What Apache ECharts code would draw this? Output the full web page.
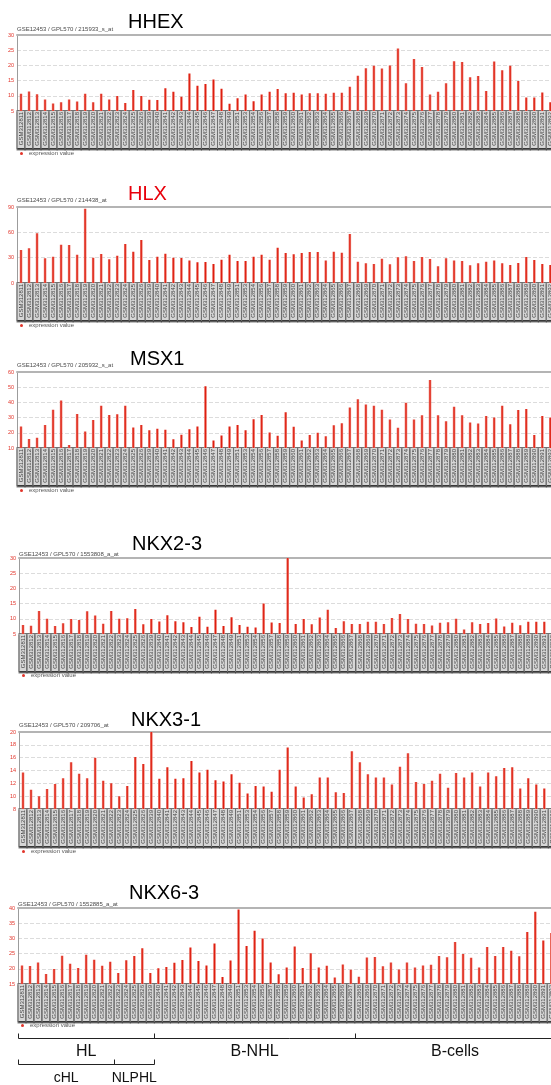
<!DOCTYPE html>
<html><head><meta charset="utf-8">
<script src="https://cdn.jsdelivr.net/npm/echarts/dist/echarts.min.js"></script>
<style>html,body{margin:0;padding:0;overflow:hidden;background:#fff;width:551px;height:1085px}#c{width:560px;height:1085px}</style>
</head><body><div id="c"></div><script>
const categories = ['GSM312811','GSM312812','GSM312813','GSM312814','GSM312815','GSM312816','GSM312817','GSM312818','GSM312819','GSM312820','GSM312821','GSM312822','GSM312823','GSM312824','GSM312825','GSM312826','GSM312839','GSM312840','GSM312841','GSM312842','GSM312843','GSM312844','GSM312845','GSM312846','GSM312847','GSM312848','GSM312849','GSM312851','GSM312853','GSM312854','GSM312856','GSM312857','GSM312858','GSM312859','GSM312860','GSM312861','GSM312862','GSM312863','GSM312864','GSM312865','GSM312866','GSM312867','GSM312868','GSM312869','GSM312870','GSM312871','GSM312872','GSM312873','GSM312874','GSM312875','GSM312876','GSM312877','GSM312878','GSM312879','GSM312880','GSM312881','GSM312882','GSM312883','GSM312884','GSM312885','GSM312886','GSM312887','GSM312888','GSM312889','GSM312890','GSM312891','GSM312892'];

const hhex = [10.7,11.4,10.5,8.8,7.5,7.9,8.8,8.1,10.7,7.9, 10.7,8.8,9.9,7.6,11.9,9.9,8.7,8.6,12.5,11.3, 9.7,17.3,13.3,13.9,15.4,12.3,7.4,9.2,10.4,8.2, 10.4,11.3,12.2,10.8,11.0,10.4,10.8,10.8,10.7,11.0, 11.0,13.0,16.6,19.1,19.9,19.0,20.0,25.6,14.1,22.1, 19.5,10.4,11.3,14.1,21.4,21.1,16.1,16.5,11.6,21.3, 18.4,19.9,14.9,9.4,9.4,11.1,7.9];
const hlx = [39.1,41.1,58.8,29.2,31.2,45.4,45.0,33.6,88.0,30.0, 34.3,28.0,32.4,46.2,37.1,50.9,27.2,31.2,34.7,30.0, 29.6,26.5,24.5,24.9,22.5,27.6,33.6,26.1,26.1,31.2, 33.6,27.4,41.8,35.5,34.0,35.5,36.7,36.7,26.5,37.1, 35.9,58.0,25.3,23.3,22.5,28.8,22.1,30.4,31.6,26.1, 30.8,28.4,19.7,29.2,26.5,26.1,20.9,23.3,25.3,26.5, 23.3,21.3,23.7,30.8,27.2,22.5,21.3];
const msx1 = [24.1,15.9,16.7,25.2,35.2,41.3,12.0,32.4,20.9,28.5, 37.8,31.7,32.2,37.8,23.5,25.2,21.7,22.6,22.0,15.7, 18.7,22.4,24.1,50.7,15.0,18.3,24.1,25.2,21.7,28.9, 31.7,20.2,18.0,33.5,23.9,15.0,18.5,20.0,17.8,25.0, 26.3,36.7,42.0,38.7,37.8,35.2,28.7,23.3,39.8,28.7, 31.5,54.8,31.5,27.6,37.2,31.5,26.7,26.1,31.1,30.0, 37.8,25.7,35.0,35.7,18.5,31.1,30.0];
const nkx23 = [8.0,7.7,12.6,10.0,7.6,8.5,9.9,9.6,12.5,11.1, 8.4,12.6,10.0,10.2,13.2,8.2,9.9,9.1,11.2,9.2, 8.9,7.3,10.7,7.4,13.0,7.6,10.5,8.0,7.4,7.1, 15.0,8.8,8.6,30.0,8.3,9.9,8.2,10.4,13.0,7.0, 9.2,8.3,8.3,9.0,9.0,8.3,10.3,11.6,9.9,8.4, 8.3,7.8,8.7,8.9,10.0,6.5,8.9,8.3,8.6,10.1, 7.5,8.7,7.9,9.0,9.0,9.0,8.5];
const nkx31 = [13.7,11.0,10.0,11.1,11.9,12.8,15.3,13.5,12.8,16.0, 12.4,12.0,10.0,11.6,16.1,15.0,20.0,12.7,14.5,12.7, 12.8,15.5,13.7,14.1,12.5,12.3,13.4,12.1,10.4,11.6, 11.5,10.7,14.1,17.6,11.5,9.8,10.3,12.9,12.9,10.6, 10.5,17.0,15.3,13.4,12.9,12.9,11.8,14.6,16.7,12.2, 11.9,12.4,13.5,11.3,13.6,12.9,13.7,11.5,13.7,13.1, 14.4,14.5,11.2,12.8,11.8,11.2,11.0];
const nkx63 = [21.1,20.9,22.1,18.3,19.9,24.3,21.7,20.3,24.6,23.0, 21.0,22.3,18.6,22.8,24.2,26.8,18.6,20.2,20.6,22.0, 22.9,27.0,22.6,21.1,28.3,17.3,22.7,39.5,27.5,32.5, 30.0,22.1,18.2,20.4,27.3,20.3,25.1,20.4,21.0,17.1, 21.4,19.7,17.4,23.7,23.9,20.8,22.1,19.8,22.1,20.4, 21.1,21.3,24.2,23.8,28.8,24.9,23.6,20.4,27.2,24.2, 27.2,25.9,24.1,32.1,38.8,29.3,31.8];

const genes = ['HHEX','HLX','MSX1','NKX2-3','NKX3-1','NKX6-3'];
const probes = ['215933_s_at','214438_at','205932_s_at','1553808_a_at','209706_at','1552885_a_at'];
const yMins = [5,0,10,5,8,15];
const yMaxs = [30,90,60,30,20,40];
const yIntervals = [5,30,10,5,2,5];
const groups = [{name:'HL',start:0,end:16},{name:'B-NHL',start:17,end:41},{name:'B-cells',start:42,end:66}];
const subgroups = [{name:'cHL',start:0,end:11},{name:'NLPHL',start:12,end:16}];
const seriesName = 'expression value';
const datasets = [hhex,hlx,msx1,nkx23,nkx31,nkx63];

// layout (pixels)
const layout = [
  {left:17, top:35,  h:76, titleTop:12,  titleLeft:128, titleColor:'#000',    subTop:26,  legTop:150.5},
  {left:17, top:207, h:76, titleTop:184, titleLeft:128, titleColor:'#e8000b', subTop:197, legTop:322.5},
  {left:17, top:372, h:76, titleTop:349, titleLeft:130, titleColor:'#000',    subTop:362, legTop:487.5},
  {left:19, top:558, h:76, titleTop:534, titleLeft:132, titleColor:'#000',    subTop:551, legTop:672.5},
  {left:19, top:732, h:77, titleTop:710, titleLeft:131, titleColor:'#000',    subTop:722, legTop:848.5},
  {left:18, top:908, h:76, titleTop:883, titleLeft:129, titleColor:'#000',    subTop:901, legTop:1022.5}
];
const BAND = 8.02;
const FONT = 'Liberation Sans, Arial, sans-serif';

const chart = echarts.init(document.getElementById('c'), null, {renderer:'canvas'});
const grid=[], xAxis=[], yAxis=[], series=[], title=[], legend=[];
const barColor = new echarts.graphic.LinearGradient(0,0,1,0,[{offset:0,color:'#f0877c'},{offset:0.5,color:'#dd1c0e'},{offset:1,color:'#f0877c'}]);
datasets.forEach((d,k)=>{
  const L = layout[k];
  grid.push({left:L.left, top:L.top, width:BAND*categories.length, height:L.h, containLabel:false});
  xAxis.push({type:'category', gridIndex:k, data:categories, boundaryGap:true,
    axisLine:{show:false}, axisTick:{show:false}, splitLine:{show:false},
    axisLabel:{show:true, interval:0, rotate:90, margin:0, fontFamily:FONT, fontSize:6, color:'#444',
      backgroundColor:'#d6d6d6', borderColor:'#727272', borderWidth:1,
      shadowColor:'rgba(0,0,0,0.5)', shadowOffsetX:0, shadowOffsetY:1.5, shadowBlur:0,
      width:35, overflow:'truncate', lineHeight:6, padding:[0.5,1,0.5,1]}});
  xAxis.push({type:'category', gridIndex:k, position:'top', data:categories,
    axisLine:{show:true, lineStyle:{color:'#b4b4b4', width:2}}, axisTick:{show:false}, axisLabel:{show:false}});
  yAxis.push({type:'value', gridIndex:k, min:yMins[k], max:yMaxs[k], interval:yIntervals[k],
    axisLine:{show:true, lineStyle:{color:'#9c9c9c', width:1}}, axisTick:{show:false},
    axisLabel:{color:'#e2342a', fontSize:5.5, fontFamily:FONT, margin:3},
    splitLine:{show:true, lineStyle:{color:'#dcdcdc', type:[4,2], width:1}}});
  series.push({type:'bar', name:seriesName, xAxisIndex:2*k, yAxisIndex:k, data:d, barWidth:2.6,
    clip:true, silent:true, itemStyle:{color:barColor}});
  title.push({text:genes[k], left:L.titleLeft, top:L.titleTop, padding:0,
    textStyle:{fontFamily:FONT, fontSize:20, fontWeight:'normal', color:L.titleColor}});
  title.push({text:'GSE12453 / GPL570 / '+probes[k], left:L.left, top:L.subTop, padding:0,
    textStyle:{fontFamily:FONT, fontSize:6, fontWeight:'normal', color:'#4a4a4a'}});
  legend.push({left:L.left+3, top:L.legTop, padding:0, icon:'circle', itemWidth:3, itemHeight:3, itemGap:2,
    selectedMode:false, data:[{name:seriesName, itemStyle:{color:'#e2342a'}}],
    textStyle:{fontFamily:FONT, fontSize:6, color:'#555', padding:[0,0,0,1]}});
});
chart.setOption({animation:false, backgroundColor:'#fff', grid, xAxis, yAxis, series, title, legend});

// group brackets under the last panel, positioned through the category axis
const ax = 2*(datasets.length-1);
const cx = i => chart.convertToPixel({xAxisIndex:ax}, i);
const bw = cx(1)-cx(0);
const edge = i => Math.round(cx(i)-bw/2)+0.5;
const graphic = [];
const Y1 = 1038.5, Y2 = 1064.5, TK = 5;
const stroke = {stroke:'#222', lineWidth:1};
graphic.push({type:'line', shape:{x1:edge(groups[0].start), y1:Y1, x2:560, y2:Y1}, style:stroke});
groups.forEach(g=>{
  graphic.push({type:'line', shape:{x1:edge(g.start), y1:Y1-TK, x2:edge(g.start), y2:Y1}, style:stroke});
  const c = (cx(g.start)+cx(g.end))/2;
  graphic.push({type:'text', x:c, y:1052, style:{text:g.name, font:'16px '+FONT, fill:'#111', textAlign:'center', textVerticalAlign:'middle'}});
});
graphic.push({type:'line', shape:{x1:edge(subgroups[0].start), y1:Y2, x2:edge(subgroups[subgroups.length-1].end+1), y2:Y2}, style:stroke});
subgroups.forEach(g=>{
  graphic.push({type:'line', shape:{x1:edge(g.start), y1:Y2-TK, x2:edge(g.start), y2:Y2}, style:stroke});
  const c = (cx(g.start)+cx(g.end))/2;
  graphic.push({type:'text', x:c, y:1078, style:{text:g.name, font:'14px '+FONT, fill:'#111', textAlign:'center', textVerticalAlign:'middle'}});
});
const lastEnd = subgroups[subgroups.length-1].end+1;
graphic.push({type:'line', shape:{x1:edge(lastEnd), y1:Y2-TK, x2:edge(lastEnd), y2:Y2}, style:stroke});
chart.setOption({graphic});
</script></body></html>
